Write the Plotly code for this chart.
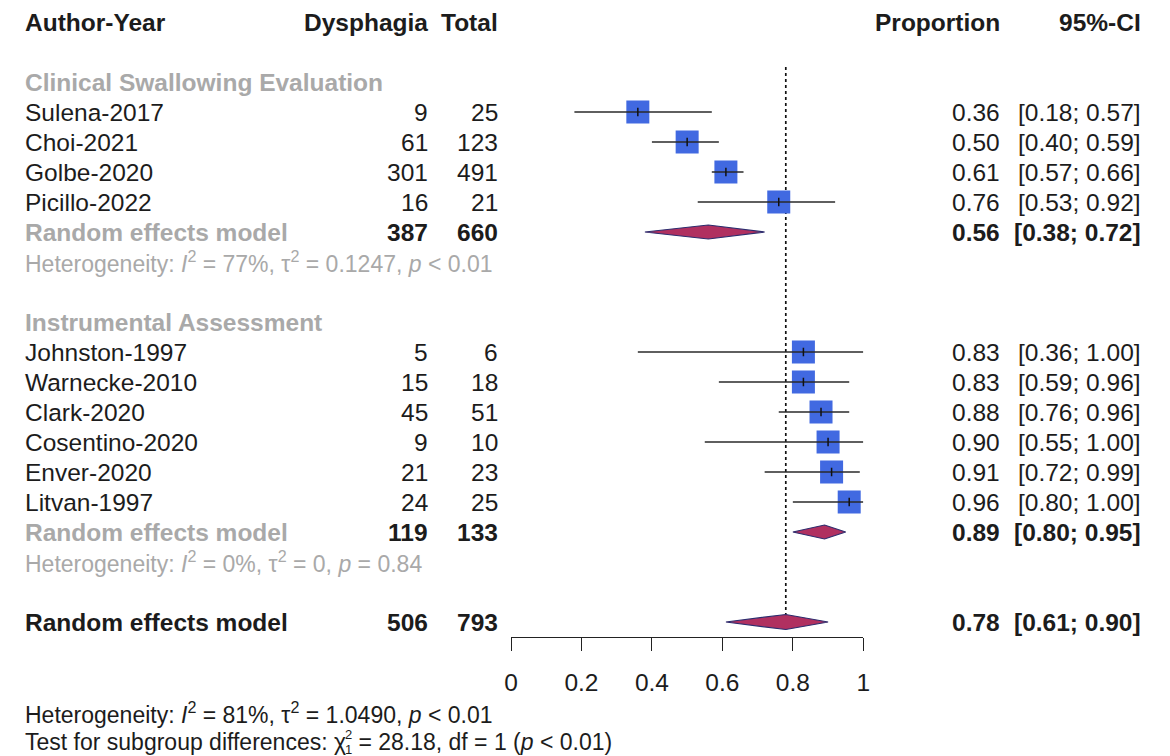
import plotly.graph_objects as go

# ---- study data -------------------------------------------------------------
cse_studies = ["Sulena-2017", "Choi-2021", "Golbe-2020", "Picillo-2022"]
cse_events = [9, 61, 301, 16]
cse_totals = [25, 123, 491, 21]
cse_prop = [0.36, 0.50, 0.61, 0.76]
cse_lo = [0.18, 0.40, 0.57, 0.53]
cse_hi = [0.57, 0.59, 0.66, 0.92]

ia_studies = ["Johnston-1997", "Warnecke-2010", "Clark-2020",
              "Cosentino-2020", "Enver-2020", "Litvan-1997"]
ia_events = [5, 15, 45, 9, 21, 24]
ia_totals = [6, 18, 51, 10, 23, 25]
ia_prop = [0.83, 0.83, 0.88, 0.90, 0.91, 0.96]
ia_lo = [0.36, 0.59, 0.76, 0.55, 0.72, 0.80]
ia_hi = [1.00, 0.96, 0.96, 1.00, 0.99, 1.00]

# pooled estimates: [clinical, instrumental, overall]
pooled_events = [387, 119, 506]
pooled_totals = [660, 133, 793]
pooled_prop = [0.56, 0.89, 0.78]
pooled_lo = [0.38, 0.80, 0.61]
pooled_hi = [0.72, 0.95, 0.90]

group_names = ["Clinical Swallowing Evaluation", "Instrumental Assessment"]
het_sub = [("77%", "0.1247", "<i>p</i> &lt; 0.01"),
           ("0%", "0", "<i>p</i> = 0.84")]
het_all = ("81%", "1.0490", "<i>p</i> &lt; 0.01")
subgroup_test = ("28.18", "1", "<i>p</i> &lt; 0.01")

axis_ticks = [0, 0.2, 0.4, 0.6, 0.8, 1]
axis_ticktext = ["0", "0.2", "0.4", "0.6", "0.8", "1"]

# ---- layout geometry ----------------------------------------------------------
W, H = 1170, 756
ROW0, STEP = 22, 30          # pixel centre of the header row and row pitch


def row(k):
    return ROW0 + STEP * k


FONT = "Liberation Sans, Arial, Helvetica, sans-serif"
FS = 24.5
FS_SMALL = 23
BLACK = "#1c1c1c"
GREY = "#a9a9a9"
SQ_COL = "#4169e1"
DIA_FILL = "#b03060"
DIA_LINE = "#2c2c6e"

X_LEFT, X_EV, X_TOT, X_PROP, X_CI = 25, 428, 498, 1000, 1141
AX0, AX1 = 511, 863.3
AXIS_Y = 637

fig = go.Figure()
ann = []


def text(x, y, s, anchor="left", bold=False, color=BLACK, size=FS):
    if bold:
        s = "<b>" + s + "</b>"
    ann.append(dict(x=x / W, xref="paper", y=y, yref="y", text=s,
                    showarrow=False, xanchor=anchor, yanchor="middle",
                    borderpad=0, borderwidth=0,
                    font=dict(family=FONT, size=size, color=color)))


def ci_text(p, lo, hi):
    return f"{p:.2f}", f"[{lo:.2f}; {hi:.2f}]"


# header
text(X_LEFT, row(0), "Author-Year", bold=True)
text(X_EV, row(0), "Dysphagia", "right", bold=True)
text(X_TOT, row(0), "Total", "right", bold=True)
text(X_PROP, row(0), "Proportion", "right", bold=True)
text(X_CI, row(0), "95%-CI", "right", bold=True)

groups = [
    (cse_studies, cse_events, cse_totals, cse_prop, cse_lo, cse_hi, 2),
    (ia_studies, ia_events, ia_totals, ia_prop, ia_lo, ia_hi, 10),
]

sq_x, sq_y = [], []
ci_x, ci_y = [], []

for g, (names, ev, tot, p, lo, hi, start) in enumerate(groups):
    text(X_LEFT, row(start), group_names[g], bold=True, color=GREY)
    for i in range(len(names)):
        y = row(start + 1 + i)
        text(X_LEFT, y, names[i])
        text(X_EV, y, str(ev[i]), "right")
        text(X_TOT, y, str(tot[i]), "right")
        a, b = ci_text(p[i], lo[i], hi[i])
        text(X_PROP, y, a, "right")
        text(X_CI, y, b, "right")
        sq_x.append(p[i]); sq_y.append(y)
        ci_x += [lo[i], hi[i], None]; ci_y += [y, y, None]
    # subgroup pooled row
    k = start + 1 + len(names)
    y = row(k)
    text(X_LEFT, y, "Random effects model", bold=True, color=GREY)
    text(X_EV, y, str(pooled_events[g]), "right", bold=True)
    text(X_TOT, y, str(pooled_totals[g]), "right", bold=True)
    a, b = ci_text(pooled_prop[g], pooled_lo[g], pooled_hi[g])
    text(X_PROP, y, a, "right", bold=True)
    text(X_CI, y, b, "right", bold=True)
    i2, t2, pv = het_sub[g]
    text(X_LEFT, row(k + 1),
         f"Heterogeneity: <i>I</i><sup>2</sup> = {i2}, τ<sup>2</sup> = {t2}, {pv}",
         color=GREY, size=FS_SMALL)

# overall pooled row
y_all = row(20)
text(X_LEFT, y_all, "Random effects model", bold=True)
text(X_EV, y_all, str(pooled_events[2]), "right", bold=True)
text(X_TOT, y_all, str(pooled_totals[2]), "right", bold=True)
a, b = ci_text(pooled_prop[2], pooled_lo[2], pooled_hi[2])
text(X_PROP, y_all, a, "right", bold=True)
text(X_CI, y_all, b, "right", bold=True)

# footnotes (chi-square symbol carries a stacked super- and subscript)
text(X_LEFT, 713,
     f"Heterogeneity: <i>I</i><sup>2</sup> = {het_all[0]}, τ<sup>2</sup> = {het_all[1]}, {het_all[2]}",
     size=FS_SMALL)
text(X_LEFT, 742, "Test for subgroup differences: χ", size=FS_SMALL)
text(345, 734, "2", size=13)
text(345, 749, "1", size=13)
text(352, 742, f" = {subgroup_test[0]}, df = {subgroup_test[1]} ({subgroup_test[2]})",
     size=FS_SMALL)

# dotted reference line at the overall estimate
DIA_H = [7, 7, 7.5]
fig.add_trace(go.Scatter(x=[pooled_prop[2], pooled_prop[2]],
                         y=[row(1.5), y_all - DIA_H[2]], mode="lines",
                         line=dict(color="#111", width=1.7, dash="dot"),
                         hoverinfo="skip"))

# study squares, CI lines and estimate ticks
fig.add_trace(go.Scatter(x=sq_x, y=sq_y, mode="markers",
                         marker=dict(symbol="square", size=23, color=SQ_COL,
                                     line=dict(width=0)),
                         hoverinfo="skip"))
fig.add_trace(go.Scatter(x=ci_x, y=ci_y, mode="lines",
                         line=dict(color="#2a2a2a", width=1.6),
                         hoverinfo="skip"))
fig.add_trace(go.Scatter(x=sq_x, y=sq_y, mode="markers",
                         marker=dict(symbol="line-ns", size=6,
                                     line=dict(color="#111", width=1.5)),
                         hoverinfo="skip"))

# pooled diamonds
dia_rows = [row(7), row(17), y_all]
for j in range(3):
    y, h = dia_rows[j], DIA_H[j]
    fig.add_trace(go.Scatter(
        x=[pooled_lo[j], pooled_prop[j], pooled_hi[j], pooled_prop[j], pooled_lo[j]],
        y=[y, y - h, y, y + h, y], mode="lines", fill="toself",
        fillcolor=DIA_FILL, line=dict(color=DIA_LINE, width=1.2),
        hoverinfo="skip"))

fig.update_layout(
    template="none",
    width=W, height=H, margin=dict(l=0, r=0, t=0, b=0, pad=0),
    paper_bgcolor="white", plot_bgcolor="white", showlegend=False,
    annotations=ann,
    xaxis=dict(domain=[AX0 / W, AX1 / W], range=[0, 1], anchor="free",
               position=1 - AXIS_Y / H, automargin=False,
               showgrid=False, zeroline=False,
               showline=True, linecolor="#222", linewidth=1.4,
               ticks="outside", ticklen=13, tickwidth=1.4, tickcolor="#222",
               ticklabelstandoff=10,
               tickvals=axis_ticks, ticktext=axis_ticktext,
               tickfont=dict(family=FONT, size=FS, color=BLACK)),
    yaxis=dict(domain=[0, 1], range=[H, 0], visible=False, automargin=False),
)

fig.write_html("out.html")
